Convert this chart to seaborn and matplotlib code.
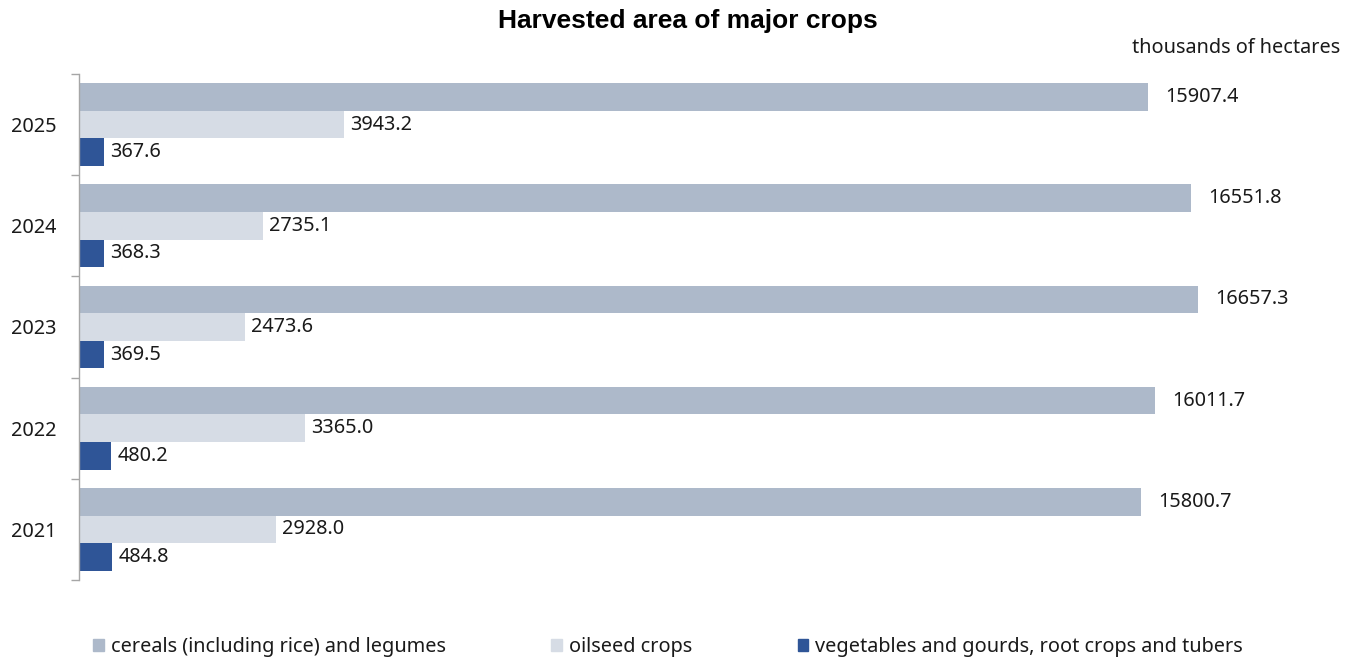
import numpy as np
import pandas as pd
import matplotlib
matplotlib.use("Agg")
import matplotlib.pyplot as plt
import seaborn as sns

years = ["2025", "2024", "2023", "2022", "2021"]
series = ["cereals (including rice) and legumes", "oilseed crops",
          "vegetables and gourds, root crops and tubers"]
cereals = [15907.4, 16551.8, 16657.3, 16011.7, 15800.7]
oilseed = [3943.2, 2735.1, 2473.6, 3365.0, 2928.0]
vegetables = [367.6, 368.3, 369.5, 480.2, 484.8]

COLORS = ["#ADB9CA", "#D6DCE5", "#2F5597"]
TXT = "#1A1A1A"
AXC = "#A6A6A6"
FS = 14.3

df = pd.DataFrame({
    "year": years * 3,
    "crop": [series[0]] * 5 + [series[1]] * 5 + [series[2]] * 5,
    "area": cereals + oilseed + vegetables,
})

sns.set_theme(style="white")
plt.rcParams["font.family"] = ["Noto Sans", "DejaVu Sans"]

fig = plt.figure(figsize=(13.57, 6.59), dpi=100, facecolor="white")
ax = fig.add_axes([79 / 1357, 1 - 580 / 659, 0.9794 - 79 / 1357, (580 - 74) / 659])

sns.barplot(data=df, y="year", x="area", hue="crop", order=years,
            hue_order=series, palette=COLORS, orient="h", width=0.82,
            saturation=1, linewidth=0, ax=ax, legend=False)

pads = [12.2, 4.3, 4.8]
for cont, pad in zip(ax.containers, pads):
    ax.bar_label(cont, labels=[f"{v:.1f}" for v in cont.datavalues],
                 padding=pad, fontsize=FS, color=TXT)

ax.set_xlim(0, 18600)
ax.set_ylim(4.5, -0.5)
ax.set_xlabel("")
ax.set_ylabel("")
ax.set_xticks([])
ax.set_yticks(np.arange(-0.5, 5, 1), minor=True)
ax.tick_params(axis="y", which="major", length=0, pad=16, labelsize=FS,
               labelcolor=TXT)
ax.tick_params(axis="y", which="minor", length=6, width=1, color=AXC, left=True)
for s in ["top", "right", "bottom"]:
    ax.spines[s].set_visible(False)
ax.spines["left"].set_color(AXC)
ax.spines["left"].set_linewidth(1)

fig.text(688 / 1357, 1 - 21 / 659, "Harvested area of major crops", ha="center",
         va="center", fontsize=19, fontweight="bold", family="Liberation Sans",
         color="black")
fig.text(1340 / 1357, 1 - 48 / 659, "thousands of hectares", ha="right",
         va="center", fontsize=FS, color=TXT)

handles = [plt.Rectangle((0, 0), 1, 1, color=c) for c in COLORS]
leg = fig.legend(handles, series, loc="center left",
                 bbox_to_anchor=(93 / 1357, 1 - 647 / 659), ncol=3,
                 frameon=False, fontsize=FS, handlelength=0.55,
                 handleheight=0.55, handletextpad=0.35, columnspacing=5.3,
                 borderaxespad=0, borderpad=0)
for t in leg.get_texts():
    t.set_color(TXT)

fig.savefig("out.png", dpi=100, facecolor="white")
